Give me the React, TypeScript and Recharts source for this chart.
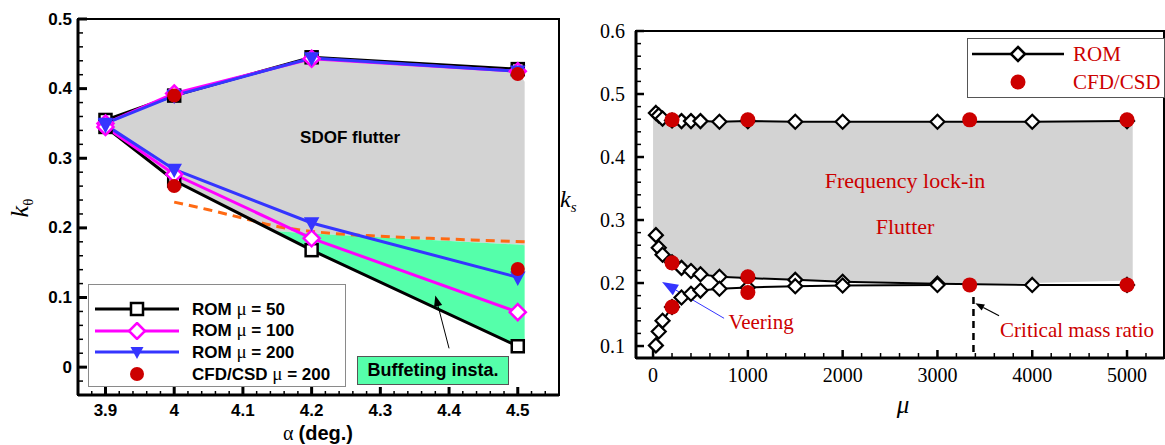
import React from 'react';
import {
  ComposedChart,
  Line,
  Area,
  Scatter,
  XAxis,
  YAxis,
  ReferenceArea,
  ReferenceLine,
  ReferenceDot,
} from 'recharts';

// ---------------- Left panel data (k_theta vs alpha) ----------------
const ALPHA = [3.9, 4.0, 4.2, 4.5];
const ROM50_UPPER = [0.355, 0.39, 0.445, 0.428];
const ROM50_LOWER = [0.345, 0.268, 0.168, 0.03];
const ROM100_UPPER = [0.35, 0.393, 0.443, 0.425];
const ROM100_LOWER = [0.345, 0.277, 0.185, 0.079];
const ROM200_UPPER = [0.35, 0.39, 0.444, 0.425];
const ROM200_LOWER = [0.348, 0.284, 0.207, 0.129];
const CFD_ALPHA = [4.0, 4.0, 4.5, 4.5];
const CFD_K = [0.39, 0.26, 0.421, 0.141];
const DASH_ALPHA = [4.0, 4.05, 4.1, 4.15, 4.2, 4.3, 4.4, 4.51];
const DASH_K = [0.237, 0.226, 0.214, 0.202, 0.195, 0.188, 0.184, 0.18];
const SHADE_ALPHA = [3.9, 4.0, 4.15, 4.2, 4.5, 4.51];
const SDOF_TOP = [0.354, 0.391, 0.431, 0.444, 0.426, 0.41];
const SDOF_BOTTOM = [0.346, 0.266, 0.195, 0.192, 0.176, 0.175];
const BUFF_BOTTOM: (number | null)[] = [null, null, 0.193, 0.168, 0.03, 0.021];

const LEFT_X_MAJOR = [3.9, 4.0, 4.1, 4.2, 4.3, 4.4, 4.5];
const LEFT_X_LABELS = ['3.9', '4', '4.1', '4.2', '4.3', '4.4', '4.5'];
const LEFT_Y_MAJOR = [0, 0.1, 0.2, 0.3, 0.4, 0.5];
const LEFT_Y_LABELS = ['0', '0.1', '0.2', '0.3', '0.4', '0.5'];

// ---------------- Right panel data (k_s vs mu) ----------------
const MU_A = [30, 60, 100, 200, 300, 400, 500, 700, 1000, 1500, 2000, 3000, 4000, 5000];
const KS_A = [0.47, 0.466, 0.461, 0.458, 0.457, 0.457, 0.457, 0.456, 0.457, 0.456, 0.456, 0.456, 0.456, 0.457];
const MU_B = [30, 60, 100, 200, 300, 400, 500, 700, 1000, 1500, 2000, 3000, 4000, 5000];
const KS_B = [0.276, 0.256, 0.245, 0.233, 0.224, 0.219, 0.214, 0.21, 0.208, 0.205, 0.202, 0.199, 0.197, 0.197];
const MU_C = [30, 60, 100, 200, 300, 400, 500, 700, 1000, 1500, 2000, 3000];
const KS_C = [0.101, 0.123, 0.14, 0.162, 0.177, 0.183, 0.188, 0.191, 0.193, 0.195, 0.196, 0.197];
const CFD_MU = [200, 1000, 3340, 5000, 200, 200, 1000, 1000, 3340, 5000];
const CFD_KS = [0.459, 0.459, 0.459, 0.459, 0.232, 0.162, 0.21, 0.185, 0.197, 0.197];
const LOCK_MU = [0, 30, 60, 100, 200, 300, 400, 500, 700, 1000, 1500, 2000, 3000, 4000, 5060];
const LOCK_TOP = [0.463, 0.462, 0.461, 0.459, 0.458, 0.457, 0.457, 0.457, 0.457, 0.457, 0.457, 0.457, 0.457, 0.457, 0.457];
const LOCK_BOTTOM = [0.285, 0.277, 0.258, 0.247, 0.235, 0.226, 0.221, 0.216, 0.212, 0.209, 0.206, 0.203, 0.2, 0.2, 0.204];
const CRITICAL_MU = 3380;

const RIGHT_X_MAJOR = [0, 1000, 2000, 3000, 4000, 5000];
const RIGHT_X_LABELS = ['0', '1000', '2000', '3000', '4000', '5000'];
const RIGHT_Y_MAJOR = [0.1, 0.2, 0.3, 0.4, 0.5, 0.6];
const RIGHT_Y_LABELS = ['0.1', '0.2', '0.3', '0.4', '0.5', '0.6'];

// ---------------- helpers ----------------
const LEFT_DOMAIN_X: [number, number] = [3.86, 4.56];
const LEFT_DOMAIN_Y: [number, number] = [-0.04, 0.5];
const RIGHT_DOMAIN_X: [number, number] = [-180, 5390];
const RIGHT_DOMAIN_Y: [number, number] = [0.081, 0.6];

const steps = (from: number, to: number, step: number, scale: number) => {
  const out: number[] = [];
  const a = Math.round(from * scale);
  const b = Math.round(to * scale);
  const s = Math.round(step * scale);
  for (let v = a; v <= b; v += s) out.push(v / scale);
  return out;
};
const LEFT_X_TICKS = steps(3.88, 4.54, 0.02, 100);
const LEFT_Y_TICKS = steps(-0.02, 0.5, 0.02, 100);
const RIGHT_X_TICKS = steps(0, 5200, 200, 1);
const RIGHT_Y_TICKS = steps(0.1, 0.6, 0.02, 100);

const near = (a: number, b: number) => Math.abs(a - b) < 1e-6;

const SANS = "'Liberation Sans', Arial, sans-serif";
const SERIF = "'Liberation Serif', 'Times New Roman', serif";
const RED = '#CC0000';

type TickCfg = { major: number; minor: number; mw: number; nw: number; offset: number; family: string; size: number; weight: string };

function makeXTick(majors: number[], labels: string[], c: TickCfg) {
  return (props: any) => {
    const { x, y, payload } = props;
    const idx = majors.findIndex((m) => near(m, payload.value));
    const isMajor = idx >= 0;
    return (
      <g>
        <line x1={x} x2={x} y1={y} y2={y - (isMajor ? c.major : c.minor)} stroke="#000" strokeWidth={isMajor ? c.mw : c.nw} />
        {isMajor && (
          <text x={x} y={y + c.offset} textAnchor="middle" dominantBaseline="central" fontFamily={c.family} fontSize={c.size} fontWeight={c.weight} fill="#000">
            {labels[idx]}
          </text>
        )}
      </g>
    );
  };
}

function makeYTick(majors: number[], labels: string[], c: TickCfg) {
  return (props: any) => {
    const { x, y, payload } = props;
    const idx = majors.findIndex((m) => near(m, payload.value));
    const isMajor = idx >= 0;
    return (
      <g>
        <line x1={x} x2={x + (isMajor ? c.major : c.minor)} y1={y} y2={y} stroke="#000" strokeWidth={isMajor ? c.mw : c.nw} />
        {isMajor && (
          <text x={x - c.offset} y={y} textAnchor="end" dominantBaseline="central" fontFamily={c.family} fontSize={c.size} fontWeight={c.weight} fill="#000">
            {labels[idx]}
          </text>
        )}
      </g>
    );
  };
}

const leftXTick = makeXTick(LEFT_X_MAJOR, LEFT_X_LABELS, { major: 8, minor: 4, mw: 3, nw: 1.5, offset: 15, family: SANS, size: 17, weight: 'bold' });
const leftYTick = makeYTick(LEFT_Y_MAJOR, LEFT_Y_LABELS, { major: 9, minor: 5, mw: 3, nw: 1.5, offset: 6, family: SANS, size: 17, weight: 'bold' });
const rightXTick = makeXTick(RIGHT_X_MAJOR, RIGHT_X_LABELS, { major: 8, minor: 5, mw: 2.5, nw: 1.5, offset: 17, family: SERIF, size: 20, weight: 'normal' });
const rightYTick = makeYTick(RIGHT_Y_MAJOR, RIGHT_Y_LABELS, { major: 8, minor: 5, mw: 2.5, nw: 1.5, offset: 11, family: SERIF, size: 20, weight: 'normal' });

// markers
const squareDot = (p: any) => (
  <rect key={`sq-${p.index}`} x={p.cx - 6} y={p.cy - 6} width={12} height={12} fill="#fff" stroke="#000" strokeWidth={2.5} />
);
const diamondPath = (cx: number, cy: number, r: number) => `M${cx},${cy - r}L${cx + r},${cy}L${cx},${cy + r}L${cx - r},${cy}Z`;
const magentaDot = (p: any) => (
  <path key={`md-${p.index}`} d={diamondPath(p.cx, p.cy, 8)} fill="#fff" stroke="#FF00FF" strokeWidth={2.5} />
);
const triDot = (p: any) => (
  <path key={`tr-${p.index}`} d={`M${p.cx - 6.5},${p.cy - 5}L${p.cx + 6.5},${p.cy - 5}L${p.cx},${p.cy + 7}Z`} fill="#3535FF" stroke="#3535FF" strokeWidth={1.5} />
);
const blackDiamond = (p: any) => (
  <path key={`bd-${p.index}`} d={diamondPath(p.cx, p.cy, 7)} fill="#fff" stroke="#000" strokeWidth={2.2} />
);
const redCircleL = (p: any) => <circle cx={p.cx} cy={p.cy} r={7} fill={RED} />;
const redCircleR = (p: any) => <circle cx={p.cx} cy={p.cy} r={7.5} fill={RED} />;

const branch = (xs: number[], up: number[], lo: number[]) => {
  const out: { x: number; y: number }[] = [];
  for (let i = xs.length - 1; i >= 0; i--) out.push({ x: xs[i], y: up[i] });
  for (let i = 0; i < xs.length; i++) out.push({ x: xs[i], y: lo[i] });
  return out;
};
const pairs = (xs: number[], ys: number[]) => xs.map((x, i) => ({ x, y: ys[i] }));

const rom50 = branch(ALPHA, ROM50_UPPER, ROM50_LOWER);
const rom100 = branch(ALPHA, ROM100_UPPER, ROM100_LOWER);
const rom200 = branch(ALPHA, ROM200_UPPER, ROM200_LOWER);
const cfdLeft = pairs(CFD_ALPHA, CFD_K);
const dashLeft = pairs(DASH_ALPHA, DASH_K);
const leftShade = SHADE_ALPHA.map((x, i) => ({
  x,
  gray: [SDOF_BOTTOM[i], SDOF_TOP[i]],
  green: BUFF_BOTTOM[i] === null ? null : [BUFF_BOTTOM[i], SDOF_BOTTOM[i]],
}));

const romA = pairs(MU_A, KS_A);
const romB = pairs(MU_B, KS_B);
const romC = pairs(MU_C, KS_C);
const cfdRight = pairs(CFD_MU, CFD_KS);
const rightShade = LOCK_MU.map((x, i) => ({ x, gray: [LOCK_BOTTOM[i], LOCK_TOP[i]] }));

// annotation shapes
const arrowShape = (color: string, width: number, head: number) => (props: any) => {
  const { x1, y1, x2, y2 } = props;
  const ang = Math.atan2(y2 - y1, x2 - x1);
  const hw = head * 0.38;
  const bx = x2 - head * Math.cos(ang);
  const by = y2 - head * Math.sin(ang);
  const px = -Math.sin(ang) * hw;
  const py = Math.cos(ang) * hw;
  return (
    <g>
      <line x1={x1} y1={y1} x2={bx} y2={by} stroke={color} strokeWidth={width} />
      <path d={`M${x2},${y2}L${bx + px},${by + py}L${bx - px},${by - py}Z`} fill={color} />
    </g>
  );
};
const textShape = (txt: string, family: string, size: number, weight: string, color: string) => (props: any) => (
  <text x={props.cx} y={props.cy} textAnchor="middle" dominantBaseline="central" fontFamily={family} fontSize={size} fontWeight={weight} fill={color}>
    {txt}
  </text>
);

const LegendSample = ({ color, marker }: { color: string; marker: React.ReactNode }) => (
  <svg width={84} height={18} style={{ display: 'block' }}>
    <line x1={0} y1={9} x2={84} y2={9} stroke={color} strokeWidth={3} />
    {marker}
  </svg>
);

function LeftPanel() {
  return (
    <div style={{ position: 'absolute', left: 0, top: 0, width: 565, height: 445 }}>
      <ComposedChart width={565} height={445} margin={{ top: 19, right: 6, bottom: 20, left: 18 }} data={leftShade}>
        <XAxis
          type="number"
          dataKey="x"
          domain={LEFT_DOMAIN_X}
          allowDataOverflow
          ticks={LEFT_X_TICKS}
          interval={0}
          tickSize={0}
          tickMargin={0}
          tickLine={false}
          tick={leftXTick}
          axisLine={{ stroke: '#000', strokeWidth: 3 }}
          height={30}
        />
        <YAxis
          type="number"
          domain={LEFT_DOMAIN_Y}
          allowDataOverflow
          ticks={LEFT_Y_TICKS}
          interval={0}
          tickSize={0}
          tickMargin={0}
          tickLine={false}
          tick={leftYTick}
          axisLine={{ stroke: '#000', strokeWidth: 3 }}
          width={60}
        />
        <Area dataKey="gray" type="linear" fill="#D3D3D3" fillOpacity={1} stroke="none" isAnimationActive={false} dot={false} activeDot={false} />
        <Area dataKey="green" type="linear" fill="#55FFAA" fillOpacity={1} stroke="none" isAnimationActive={false} dot={false} activeDot={false} />
        <Line data={dashLeft} dataKey="y" type="monotone" stroke="#FF6A13" strokeWidth={3} strokeDasharray="9 6" dot={false} activeDot={false} isAnimationActive={false} />
        <Line data={rom50} dataKey="y" type="linear" stroke="#000" strokeWidth={3} dot={squareDot} activeDot={false} isAnimationActive={false} />
        <Line data={rom100} dataKey="y" type="linear" stroke="#FF00FF" strokeWidth={3} dot={magentaDot} activeDot={false} isAnimationActive={false} />
        <Line data={rom200} dataKey="y" type="linear" stroke="#3535FF" strokeWidth={3} dot={triDot} activeDot={false} isAnimationActive={false} />
        <Scatter data={cfdLeft} dataKey="y" shape={redCircleL} isAnimationActive={false} />
        <ReferenceLine segment={[{ x: 4.4, y: 0.027 }, { x: 4.38, y: 0.103 }]} ifOverflow="visible" shape={arrowShape('#000', 1, 11)} />
        <ReferenceDot x={4.256} y={0.33} r={0} ifOverflow="visible" shape={textShape('SDOF flutter', SANS, 17, 'bold', '#000')} />
        <ReferenceArea x1={LEFT_DOMAIN_X[0]} x2={LEFT_DOMAIN_X[1]} y1={LEFT_DOMAIN_Y[0]} y2={LEFT_DOMAIN_Y[1]} ifOverflow="visible" fill="none" stroke="#000" strokeWidth={2} />
      </ComposedChart>

      {/* legend */}
      <div style={{ position: 'absolute', left: 88, top: 284, width: 256, height: 101, border: '1.5px solid #8a8a8a', background: '#fff', fontFamily: SANS, fontWeight: 'bold', fontSize: 17 }}>
        {[
          { color: '#000', label: '50', marker: <rect x={36} y={3} width={12} height={12} fill="#fff" stroke="#000" strokeWidth={2.5} />, pre: 'ROM ' },
          { color: '#FF00FF', label: '100', marker: <path d={diamondPath(42, 9, 8)} fill="#fff" stroke="#FF00FF" strokeWidth={2.5} />, pre: 'ROM ' },
          { color: '#3535FF', label: '200', marker: <path d="M35.5,4L48.5,4L42,16Z" fill="#3535FF" />, pre: 'ROM ' },
          { color: 'none', label: '200', marker: <circle cx={42} cy={9} r={7} fill={RED} />, pre: 'CFD/CSD ' },
        ].map((row, i) => (
          <div key={i} style={{ position: 'absolute', left: 6, top: 15 + i * 21.7, height: 18, display: 'flex', alignItems: 'center' }}>
            <LegendSample color={row.color} marker={row.marker} />
            <span style={{ marginLeft: 13, whiteSpace: 'nowrap', lineHeight: '18px' }}>
              {row.pre}
              <span style={{ fontFamily: SERIF, fontWeight: 'normal', fontSize: 19 }}>μ</span> = {row.label}
            </span>
          </div>
        ))}
      </div>

      {/* buffeting label */}
      <div style={{ position: 'absolute', left: 357, top: 356, width: 150, height: 27, background: '#55FFAA', border: '1.5px solid #555', fontFamily: SANS, fontWeight: 'bold', fontSize: 18, display: 'flex', alignItems: 'center', justifyContent: 'center', whiteSpace: 'nowrap' }}>
        Buffeting insta.
      </div>

      {/* axis titles */}
      <div style={{ position: 'absolute', left: 0, top: 195, width: 40, height: 26, transform: 'rotate(-90deg)', transformOrigin: '20px 13px', fontFamily: SERIF, fontSize: 26, lineHeight: '26px', textAlign: 'center', whiteSpace: 'nowrap' }}>
        <i>k</i>
        <span style={{ fontSize: 15, verticalAlign: -5 }}>θ</span>
      </div>
      <div style={{ position: 'absolute', left: 258, top: 422, width: 120, textAlign: 'center', whiteSpace: 'nowrap', fontSize: 20, lineHeight: '22px' }}>
        <span style={{ fontFamily: SERIF }}>α </span>
        <span style={{ fontFamily: SANS, fontWeight: 'bold' }}>(deg.)</span>
      </div>
    </div>
  );
}

function RightPanel() {
  return (
    <div style={{ position: 'absolute', left: 570, top: 0, width: 595, height: 445 }}>
      <ComposedChart width={595} height={445} margin={{ top: 31, right: 1, bottom: 57, left: 16 }} data={rightShade}>
        <XAxis
          type="number"
          dataKey="x"
          domain={RIGHT_DOMAIN_X}
          allowDataOverflow
          ticks={RIGHT_X_TICKS}
          interval={0}
          tickSize={0}
          tickMargin={0}
          tickLine={false}
          tick={rightXTick}
          axisLine={{ stroke: '#000', strokeWidth: 3 }}
          height={30}
        />
        <YAxis
          type="number"
          domain={RIGHT_DOMAIN_Y}
          allowDataOverflow
          ticks={RIGHT_Y_TICKS}
          interval={0}
          tickSize={0}
          tickMargin={0}
          tickLine={false}
          tick={rightYTick}
          axisLine={{ stroke: '#000', strokeWidth: 3 }}
          width={50}
        />
        <Area dataKey="gray" type="linear" fill="#D3D3D3" fillOpacity={1} stroke="none" isAnimationActive={false} dot={false} activeDot={false} />
        <Line data={romA} dataKey="y" type="linear" stroke="#000" strokeWidth={2} dot={blackDiamond} activeDot={false} isAnimationActive={false} />
        <Line data={romB} dataKey="y" type="linear" stroke="#000" strokeWidth={2} dot={blackDiamond} activeDot={false} isAnimationActive={false} />
        <Line data={romC} dataKey="y" type="linear" stroke="#000" strokeWidth={2} dot={blackDiamond} activeDot={false} isAnimationActive={false} />
        <Scatter data={cfdRight} dataKey="y" shape={redCircleR} isAnimationActive={false} />
        <ReferenceLine segment={[{ x: CRITICAL_MU, y: 0.178 }, { x: CRITICAL_MU, y: 0.081 }]} ifOverflow="visible" stroke="#000" strokeWidth={2.5} strokeDasharray="7 5" />
        <ReferenceLine segment={[{ x: 749, y: 0.144 }, { x: 95, y: 0.2016 }]} ifOverflow="visible" shape={arrowShape('#3535FF', 1, 16)} />
        <ReferenceLine segment={[{ x: 3650, y: 0.148 }, { x: 3400, y: 0.168 }]} ifOverflow="visible" shape={arrowShape('#000', 1.2, 9)} />
        <ReferenceDot x={2658} y={0.3635} r={0} ifOverflow="visible" shape={textShape('Frequency lock-in', SERIF, 22, 'normal', RED)} />
        <ReferenceDot x={2658} y={0.2905} r={0} ifOverflow="visible" shape={textShape('Flutter', SERIF, 22, 'normal', RED)} />
        <ReferenceDot x={1139} y={0.138} r={0} ifOverflow="visible" shape={textShape('Veering', SERIF, 21, 'normal', RED)} />
        <ReferenceDot x={4473} y={0.1254} r={0} ifOverflow="visible" shape={textShape('Critical mass ratio', SERIF, 21, 'normal', RED)} />
        <ReferenceArea x1={RIGHT_DOMAIN_X[0]} x2={RIGHT_DOMAIN_X[1]} y1={RIGHT_DOMAIN_Y[0]} y2={RIGHT_DOMAIN_Y[1]} ifOverflow="visible" fill="none" stroke="#000" strokeWidth={2} />
      </ComposedChart>

      {/* legend */}
      <div style={{ position: 'absolute', left: 397, top: 38, width: 196, height: 58, border: '1.5px solid #555', background: '#fff', fontFamily: SERIF, fontSize: 21, color: RED }}>
        <div style={{ position: 'absolute', left: 4, top: 6, display: 'flex', alignItems: 'center', height: 18 }}>
          <svg width={92} height={18} style={{ display: 'block' }}>
            <line x1={0} y1={9} x2={92} y2={9} stroke="#000" strokeWidth={2.5} />
            <path d={diamondPath(46, 9, 7)} fill="#fff" stroke="#000" strokeWidth={2.5} />
          </svg>
          <span style={{ marginLeft: 9, lineHeight: '18px' }}>ROM</span>
        </div>
        <div style={{ position: 'absolute', left: 4, top: 34, display: 'flex', alignItems: 'center', height: 18 }}>
          <svg width={92} height={18} style={{ display: 'block' }}>
            <circle cx={46} cy={9} r={7.5} fill={RED} />
          </svg>
          <span style={{ marginLeft: 9, lineHeight: '18px', whiteSpace: 'nowrap' }}>CFD/CSD</span>
        </div>
      </div>

      {/* axis titles */}
      <div style={{ position: 'absolute', left: -10, top: 186, width: 30, fontFamily: SERIF, fontSize: 24, lineHeight: '26px', whiteSpace: 'nowrap' }}>
        <i>k</i>
        <i style={{ fontSize: 15, verticalAlign: -5 }}>s</i>
      </div>
      <div style={{ position: 'absolute', left: 313, top: 391, width: 40, textAlign: 'center', fontFamily: SERIF, fontStyle: 'italic', fontSize: 25, lineHeight: '28px' }}>
        μ
      </div>
    </div>
  );
}

export default function App() {
  return (
    <div style={{ position: 'absolute', left: 0, top: 0, width: 1165, height: 445, background: '#fff', overflow: 'hidden' }}>
      <LeftPanel />
      <RightPanel />
    </div>
  );
}
